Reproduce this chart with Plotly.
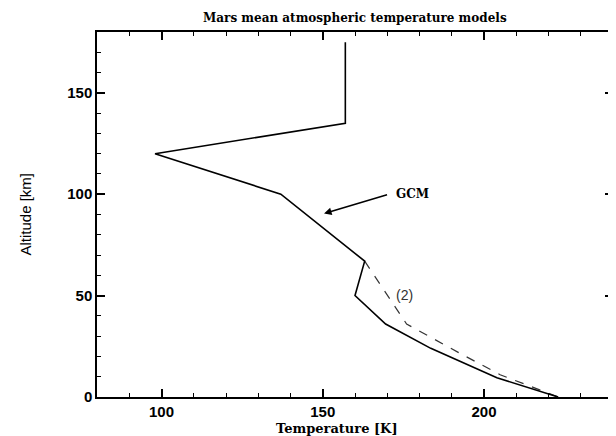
import plotly.graph_objects as go

# GCM model (solid)
gcm_temp = [157, 157, 98, 137, 163, 160, 169.5, 183.5, 204, 223]
gcm_alt = [175, 135, 120, 100, 67, 50, 36, 24, 9.5, 0]

# Model (2) (dashed), diverging below 67 km
m2_temp = [163, 176, 192, 205, 223]
m2_alt = [67, 36, 22, 11, 0]

x_ticks = [100, 150, 200]
y_ticks = [0, 50, 100, 150]

fig = go.Figure()
fig.add_trace(go.Scatter(x=m2_temp, y=m2_alt, mode="lines",
                         line=dict(color="#333333", width=1.2, dash="dash"),
                         showlegend=False, hoverinfo="skip"))
fig.add_trace(go.Scatter(x=gcm_temp, y=gcm_alt, mode="lines",
                         line=dict(color="black", width=1.6),
                         showlegend=False, hoverinfo="skip"))

axis_common = dict(showgrid=False, zeroline=False, showline=True,
                   linecolor="black", linewidth=1.5, mirror="ticks",
                   ticks="inside", tickcolor="black", tickwidth=1.5,
                   ticklen=8,
                   tickfont=dict(family="Liberation Sans, Arial, sans-serif",
                                 size=15, color="black", weight="bold"),
                   minor=dict(ticks="inside", ticklen=4, tickwidth=1.2,
                              tickcolor="black", dtick=10))

fig.update_xaxes(range=[80, 240], tickvals=x_ticks,
                 ticktext=[str(v) for v in x_ticks], **axis_common)
fig.update_yaxes(range=[0, 180], tickvals=y_ticks,
                 ticktext=[str(v) for v in y_ticks], **axis_common)

fig.add_annotation(x=150.4, y=90.5, ax=170.4, ay=100, xref="x", yref="y",
                   axref="x", ayref="y", text="", showarrow=True,
                   arrowhead=2, arrowsize=1, arrowwidth=1.5, arrowcolor="black")
fig.add_annotation(x=172, y=100, xref="x", yref="y", text="GCM",
                   showarrow=False, xanchor="left",
                   font=dict(family="DejaVu Serif, serif", size=12,
                             color="black", weight="bold"))
fig.add_annotation(x=175.3, y=50.2, xref="x", yref="y", text="(2)",
                   showarrow=False,
                   font=dict(family="Liberation Sans, Arial, sans-serif",
                             size=14, color="#333333"))

fig.add_annotation(x=0.5, y=1, xref="paper", yref="paper", yshift=14,
                   text="Mars mean atmospheric temperature models",
                   showarrow=False, yanchor="middle",
                   font=dict(family="DejaVu Serif, serif", size=12,
                             color="black", weight="bold"))
fig.add_annotation(x=0.465, y=0, xref="paper", yref="paper", yshift=-31,
                   text="Temperature [K]", showarrow=False, yanchor="middle",
                   font=dict(family="DejaVu Serif, serif", size=13,
                             color="black", weight="bold"))
fig.add_annotation(x=0, y=0.5, xref="paper", yref="paper", xshift=-72,
                   text="Altitude [km]", showarrow=False, textangle=-90,
                   xanchor="center",
                   font=dict(family="Liberation Sans, Arial, sans-serif",
                             size=15, color="black"))

# page body has an 8px default margin, so the figure is offset by 8px
fig.update_layout(width=608, height=428,
                  margin=dict(l=89, r=1, t=24, b=39),
                  plot_bgcolor="white", paper_bgcolor="white")

fig.write_html("out.html")
